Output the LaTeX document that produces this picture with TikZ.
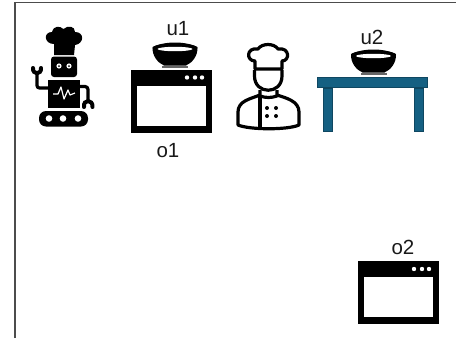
\documentclass[tikz,border=0pt]{standalone}
\usepackage{fontspec}
\setmainfont{Liberation Sans}
\definecolor{tbl}{HTML}{156082}
\definecolor{tbledge}{HTML}{0F4761}
\tikzset{
  lbl/.style={font=\fontsize{20.5}{21}\selectfont,inner sep=0pt,text=black!90},
  frameline/.style={draw=black!70,line width=1.5pt},
  bowl/.pic={
    \fill[black] (-22.5,3) .. controls (-23,12) and (-17,19) .. (-11,21.5) -- (11,21.5) .. controls (17,19) and (23,12) .. (22.5,3) .. controls (10,-3) and (-10,-3) .. (-22.5,3) -- cycle;
    \fill[black] (0,4) ellipse (22.5 and 4.6);
    \fill[white] (0,5) ellipse (17.5 and 2.2);
    \fill[black!60] (-13,22) rectangle (13,24);
  },
  windowbox/.pic={
    \fill[black] (0,0) rectangle (81,63);
    \fill[white] (6,16) rectangle (75,56);
    \foreach \dx in {56,64,71}{\fill[white] (\dx,8) circle (2.2);}
  },
}
\begin{document}
\begin{tikzpicture}[x=1pt,y=-1pt]
\useasboundingbox (0,0) rectangle (456,338);
\fill[white] (0,0) rectangle (456,338);
\coordinate (fa) at (15,338);
\coordinate (fb) at (15,2.7);
\coordinate (fc) at (456,2.7);
\draw[frameline] (fa) -- (fb) -- (fc);

% robot
\fill[black] (54,55) -- (54,44) .. controls (44,44) and (43,32) .. (52,32) .. controls (54,25) and (60,26) .. (63.5,29)
  .. controls (68,25) and (75,26) .. (75,32) .. controls (85,32) and (84,44) .. (75,45) -- (74,55) -- cycle;
\fill[black,rounded corners=3pt] (51,56.5) rectangle (77,77);
\fill[white] (59,66) circle (2.6); \fill[black] (59,66) circle (1);
\fill[white] (69,66) circle (2.6); \fill[black] (69,66) circle (1);
\fill[black] (48,79.5) rectangle (80,108);
\draw[white,line width=1.2pt,line join=round] (53,94) -- (58,94) -- (61,87) -- (64,99) -- (68,90) -- (70,95) -- (75,93);
\fill[black,rounded corners=7pt] (39,111) rectangle (88,126.5);
\foreach \x in {49,63,78}{\fill[white] (\x,118.5) circle (3.3);}
\draw[black,line width=3.2pt,rounded corners=2.5pt] (48,88) -- (37,88) -- (37,74);
\draw[black,line width=4pt,line cap=round] (33,68) .. controls (32.5,75) and (41.5,75) .. (41,68);
\draw[black,line width=3.2pt,rounded corners=3pt] (80,86.5) -- (88,86.5) -- (88,100);
\draw[black,line width=4pt,line cap=round] (84,107) .. controls (83,99) and (93,99) .. (92.5,107);

% oven o1 and bowl u1
\pic at (131,69.5) {windowbox};
\pic at (175,44) {bowl};
\node[lbl] (u1) at (178,29) {u1};
\node[lbl] (o1) at (168,151) {o1};

% chef
\begin{scope}[line width=3.2pt,draw=black,line join=round]
\draw (255,69) -- (255,61) .. controls (246,61) and (246,47) .. (258,49)
  .. controls (262,43) and (274,43) .. (278,49) .. controls (290,47) and (290,61) .. (282,61) -- (282,69) -- cycle;
\draw (254.5,70) -- (254.5,76) .. controls (254.5,95) and (282,95) .. (282,76) -- (282,70);
\draw (260,90) -- (260,96) .. controls (266,98) and (271,98) .. (277,96) -- (277,90);
\draw (260,95) .. controls (250,99) and (238,101) .. (238,112) -- (238,125) .. controls (250,130) and (288,130) .. (299,125)
  -- (299,112) .. controls (299,101) and (286,98) .. (277,95);
\draw (260,96) -- (260,128);
\end{scope}
\foreach \x in {267,276}{\foreach \y in {108,116}{\fill[black] (\x,\y) circle (2);}}

% table and bowl u2
\fill[tbl,draw=tbledge,line width=.8pt] (317.5,77.5) rectangle (427.5,87);
\fill[tbl,draw=tbledge,line width=.8pt] (323.5,88) rectangle (332.5,131.5);
\fill[tbl,draw=tbledge,line width=.8pt] (414.5,88) rectangle (423.5,131.5);
\pic at (373.5,51) {bowl};
\node[lbl] (u2) at (372,37) {u2};

% o2
\pic at (358,261) {windowbox};
\node[lbl] (o2) at (403,247) {o2};
\end{tikzpicture}
\end{document}
